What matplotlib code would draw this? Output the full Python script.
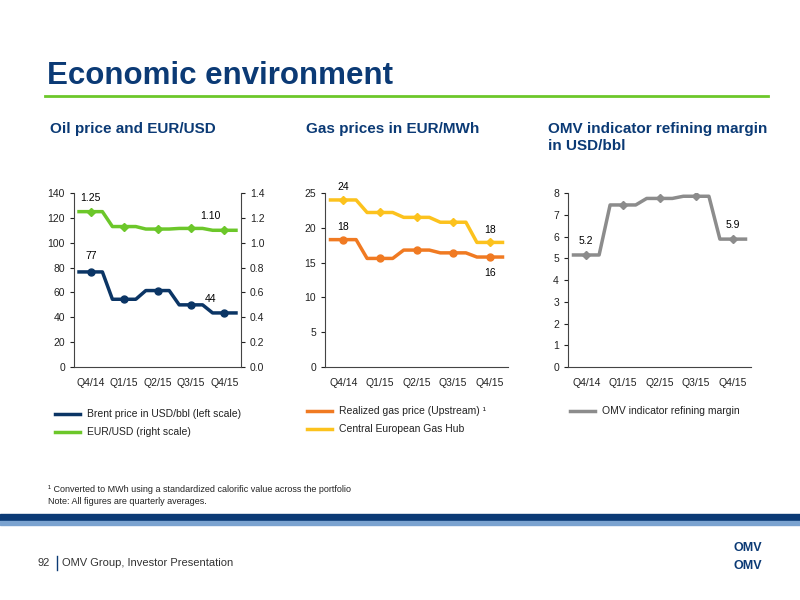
import matplotlib
matplotlib.use("Agg")
import matplotlib.pyplot as plt
from matplotlib.patches import Rectangle
from matplotlib.lines import Line2D

quarters = ["Q4/14", "Q1/15", "Q2/15", "Q3/15", "Q4/15"]
brent = [76.5, 54.5, 61.5, 50.0, 43.5]
eurusd = [1.25, 1.13, 1.11, 1.115, 1.10]
gas_realized = [18.3, 15.6, 16.8, 16.4, 15.8]
gas_cegh = [24.0, 22.2, 21.5, 20.8, 17.9]
refining = [5.15, 7.45, 7.75, 7.85, 5.88]

NAVY = "#0b3565"; GREEN = "#6cc72a"; ORANGE = "#f07a22"; YELLOW = "#fcc21d"; GREY = "#8c8c8c"
W, H = 800, 600
fig = plt.figure(figsize=(8, 6), dpi=100)
plt.rcParams['font.family'] = ['Liberation Sans', 'DejaVu Sans']

def ax_px(x0, y0, x1, y1):
    return fig.add_axes([x0 / W, 1 - y1 / H, (x1 - x0) / W, (y1 - y0) / H])

def step(ax, vals, color, marker):
    xs, ys = [], []
    for i, v in enumerate(vals):
        xs += [i - 0.35, i + 0.35]; ys += [v, v]
    ax.plot(xs, ys, color=color, lw=2.5, solid_joinstyle='round')
    ax.plot(range(len(vals)), vals, ls='none', marker=marker, color=color, ms=5 if marker == 'o' else 4.5)

def style(ax):
    for s in ['top', 'right']:
        ax.spines[s].set_visible(False)
    for s in ax.spines.values():
        s.set_color("#444444"); s.set_linewidth(0.8)
    ax.tick_params(labelsize=7.5, colors="#222222", length=3, width=0.8)
    ax.set_xlim(-0.5, 4.5)
    ax.set_xticks(range(5)); ax.set_xticklabels(quarters)
    ax.tick_params(axis='x', length=0, pad=8)

# slide frame
fig.text(47 / W, 1 - 76 / H, "Economic environment", fontsize=22.5, fontweight='bold', color="#0b3a75", va='center')
fig.add_artist(Line2D([45 / W, 768 / W], [1 - 96 / H] * 2, color=GREEN, lw=2))
fig.add_artist(Rectangle((0, 1 - 520 / H), 1, 6 / H, color="#0b3a75"))
fig.add_artist(Rectangle((0, 1 - 525 / H), 1, 4 / H, color="#7ba3d0"))
fig.text(38 / W, 1 - 563 / H, "92", fontsize=8, color="#333333", va='center')
fig.add_artist(Line2D([57 / W] * 2, [1 - 556 / H, 1 - 570 / H], color="#0b3a75", lw=1))
fig.text(62 / W, 1 - 563 / H, "OMV Group, Investor Presentation", fontsize=8, color="#333333", va='center')
fig.text(748 / W, 1 - 548 / H, "OMV", fontsize=9, fontweight='bold', color="#0b3a75", ha='center', va='center')
fig.text(748 / W, 1 - 566 / H, "OMV", fontsize=9, fontweight='bold', color="#0b3a75", ha='center', va='center')

for x, t in [(50, "Oil price and EUR/USD"), (306, "Gas prices in EUR/MWh"), (548, "OMV indicator refining margin\nin USD/bbl")]:
    fig.text(x / W, 1 - 122 / H, t, fontsize=11, fontweight='bold', color="#0b3a75", va='top', linespacing=1.3)

# chart 1
a1 = ax_px(74, 193, 241, 367)
style(a1)
a1.set_ylim(0, 140); a1.set_yticks(range(0, 141, 20))
step(a1, brent, NAVY, 'o')
a2 = a1.twinx()
a2.set_ylim(0, 1.4); a2.set_yticks([i / 5 for i in range(8)])
a2.set_yticklabels([f"{i/5:.1f}" for i in range(8)])
for s in ['top', 'left', 'bottom']:
    a2.spines[s].set_visible(False)
a2.spines['right'].set_color("#444444")
a2.tick_params(labelsize=7.5, colors="#222222", length=3)
step(a2, eurusd, GREEN, 'D')
a1.annotate("77", (0, brent[0]), xytext=(0, 9), textcoords='offset points', ha='center', fontsize=7.5)
a1.annotate("44", (4, brent[4]), xytext=(-10, 8), textcoords='offset points', ha='center', fontsize=7.5)
a2.annotate("1.25", (0, eurusd[0]), xytext=(0, 8), textcoords='offset points', ha='center', fontsize=7.5)
a2.annotate("1.10", (4, eurusd[4]), xytext=(-10, 8), textcoords='offset points', ha='center', fontsize=7.5)

# chart 2
b = ax_px(325, 193, 508, 367)
style(b)
b.set_ylim(0, 25); b.set_yticks(range(0, 26, 5))
step(b, gas_cegh, YELLOW, 'D')
step(b, gas_realized, ORANGE, 'o')
b.annotate("24", (0, gas_cegh[0]), xytext=(0, 7), textcoords='offset points', ha='center', fontsize=7.5)
b.annotate("18", (0, gas_realized[0]), xytext=(0, 7), textcoords='offset points', ha='center', fontsize=7.5)
b.annotate("18", (4, gas_cegh[4]), xytext=(0, 7), textcoords='offset points', ha='center', fontsize=7.5)
b.annotate("16", (4, gas_realized[4]), xytext=(0, -14), textcoords='offset points', ha='center', fontsize=7.5)

# chart 3
c = ax_px(568, 193, 751, 367)
style(c)
c.set_ylim(0, 8); c.set_yticks(range(9))
step(c, refining, GREY, 'D')
c.annotate("5.2", (0, refining[0]), xytext=(0, 8), textcoords='offset points', ha='center', fontsize=7.5)
c.annotate("5.9", (4, refining[4]), xytext=(0, 8), textcoords='offset points', ha='center', fontsize=7.5)

# legends
def leg(x, y, color, text):
    fig.add_artist(Line2D([x / W, (x + 25) / W], [1 - y / H] * 2, color=color, lw=2.5))
    fig.text((x + 32) / W, 1 - y / H, text, fontsize=7.5, color="#222222", va='center')
leg(55, 414, NAVY, "Brent price in USD/bbl (left scale)")
leg(55, 432, GREEN, "EUR/USD (right scale)")
leg(307, 411, ORANGE, "Realized gas price (Upstream) ¹")
leg(307, 429, YELLOW, "Central European Gas Hub")
leg(570, 411, GREY, "OMV indicator refining margin")

fig.text(48 / W, 1 - 490 / H, "¹ Converted to MWh using a standardized calorific value across the portfolio", fontsize=6.5, color="#222222", va='center')
fig.text(48 / W, 1 - 502 / H, "Note: All figures are quarterly averages.", fontsize=6.5, color="#222222", va='center')

fig.savefig("out.png", dpi=100)
